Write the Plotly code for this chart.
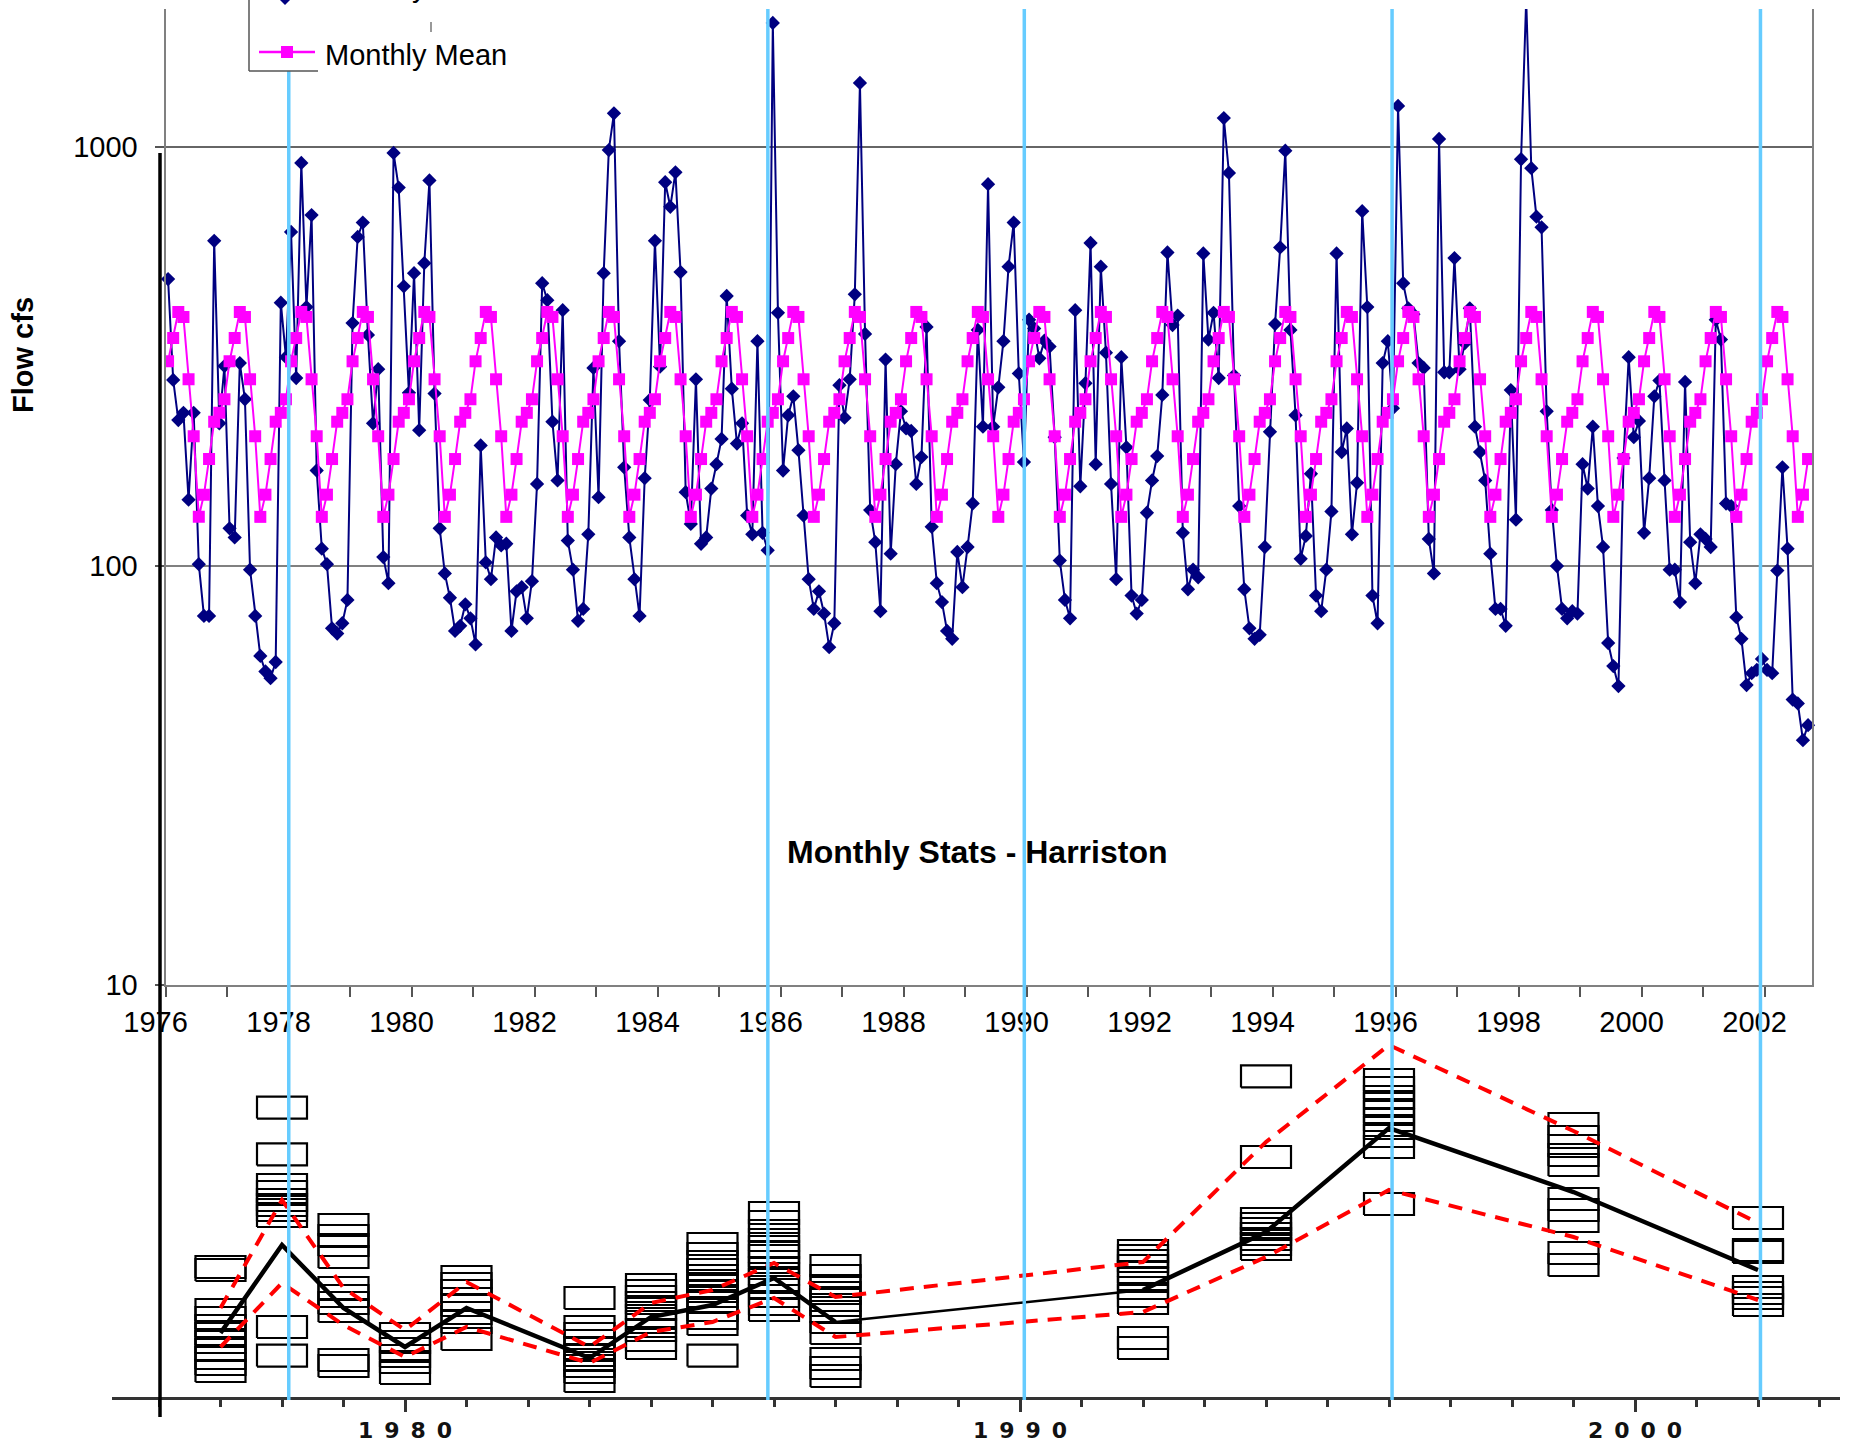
import plotly.graph_objects as go

W, H = 1851, 1447
FONT = "Liberation Sans, Arial, sans-serif"

# ---------------- Top chart: monthly flow (cfs), Jan 1976 - Sep 2002 ----------------
first_year = 1976
flow_1976 = [484, 278, 223, 232, 144, 232, 101, 76, 76, 597, 219, 300]
flow_1977 = [123, 117, 305, 250, 98, 76, 61, 56, 54, 59, 425, 315]
flow_1978 = [627, 281, 916, 415, 688, 169, 110, 101, 71, 69, 73, 83]
flow_1979 = [380, 610, 660, 356, 219, 295, 105, 91, 968, 800, 465, 259]
flow_1980 = [500, 211, 528, 832, 258, 123, 96, 84, 70, 72, 81, 75]
flow_1981 = [65, 194, 102, 93, 117, 112, 113, 70, 87, 89, 75, 92]
flow_1982 = [157, 473, 431, 221, 160, 408, 115, 98, 74, 79, 119, 297]
flow_1983 = [146, 500, 983, 1203, 344, 172, 117, 93, 76, 162, 249, 597]
flow_1984 = [299, 824, 720, 870, 503, 150, 126, 279, 113, 117, 153, 175]
flow_1985 = [201, 441, 265, 196, 219, 132, 119, 344, 120, 109, 1977, 402]
flow_1986 = [169, 229, 254, 189, 132, 93, 79, 87, 77, 64, 73, 270]
flow_1987 = [226, 279, 445, 1422, 358, 136, 114, 78, 311, 107, 175, 234]
flow_1988 = [213, 210, 157, 182, 372, 124, 91, 82, 70, 67, 108, 89]
flow_1989 = [111, 141, 366, 215, 815, 215, 267, 344, 518, 660, 288, 177]
flow_1990 = [387, 369, 313, 345, 334, 203, 103, 83, 75, 408, 155, 273]
flow_1991 = [590, 175, 518, 323, 157, 93, 315, 192, 85, 77, 83, 134]
flow_1992 = [160, 183, 256, 560, 376, 396, 120, 88, 98, 94, 557, 347]
flow_1993 = [402, 281, 1172, 867, 285, 139, 88, 71, 67, 68.5, 111, 209]
flow_1994 = [378, 576, 980, 366, 229, 104, 118, 166, 85, 78, 98, 135]
flow_1995 = [557, 187, 213, 119, 158, 703, 415, 85, 73, 305, 344, 238]
flow_1996 = [1253, 473, 412, 399, 305, 297, 116, 96, 1045, 290, 290, 543]
flow_1997 = [295, 340, 412, 215, 187, 160, 107, 79, 79, 72, 263, 129]
flow_1998 = [935, 2250, 890, 682, 643, 234, 136, 100, 79, 75, 78, 77]
flow_1999 = [175, 153, 215, 139, 111, 65.5, 57.7, 51.7, 181, 315, 203, 222]
flow_2000 = [120, 162, 254, 277, 160, 98, 98, 82, 275, 114, 91, 119]
flow_2001 = [116, 111, 387, 347, 141, 139, 75.5, 67, 52, 55.5, 56.5, 60]
flow_2002 = [56.5, 55.5, 97.5, 172, 110, 48, 47, 38.4, 41.7]

monthly_mean = [308, 350, 404, 393, 279, 204, 131, 148, 180, 221, 232, 250]

top_year_ticks = list(range(1976, 2003))
top_y_ticks = [10, 100, 1000]

# ---------------- Bottom chart: annual statistics ----------------
stat_years = [1977, 1978, 1979, 1980, 1981, 1983, 1984, 1985, 1986, 1987, 1992, 1994, 1996, 1999, 2002]
annual_mean = [16.75, 38.75, 23.0, 13.25, 23.0, 10.5, 20.75, 23.75, 30.5, 19.5, 27.5, 42.0, 68.0, 52.0, 32.5]
upper_limit = [23.0, 50.0, 28.0, 17.5, 29.5, 13.25, 24.25, 27.5, 34.25, 25.75, 34.5, 64.5, 88.75, 67.25, 44.25]
lower_limit = [13.25, 29.25, 18.75, 10.75, 18.25, 9.25, 17.0, 19.5, 25.5, 15.75, 22.0, 35.75, 52.5, 40.75, 25.0]
obs_1977 = [33.25, 32.5, 22.5, 20.5, 18.5, 16.5, 14.5, 12.5, 10.5, 9.0, 7.25]
obs_1978 = [73.1, 61.4, 53.75, 52.0, 50.0, 48.75, 47.5, 46.0, 18.25, 11.1]
obs_1979 = [43.75, 41.0, 38.75, 35.75, 28.0, 26.0, 24.25, 22.25, 10.0, 8.5]
obs_1980 = [16.5, 14.5, 12.75, 11.0, 9.5, 6.75]
obs_1981 = [30.75, 29.0, 27.25, 25.25, 23.75, 21.75, 19.5, 15.25]
obs_1983 = [25.5, 18.25, 16.5, 14.75, 13.0, 11.25, 10.0, 8.5, 7.0, 4.75]
obs_1984 = [28.75, 27.25, 25.75, 24.25, 22.75, 21.0, 19.5, 17.5, 15.0, 13.0]
obs_1985 = [39.0, 36.5, 34.5, 32.5, 31.0, 29.75, 28.5, 27.25, 26.0, 24.75, 22.5, 20.5, 19.0, 11.1]
obs_1986 = [46.75, 44.5, 42.25, 40.0, 38.25, 37.0, 36.0, 34.5, 33.0, 31.5, 30.0, 28.25, 26.0, 24.0, 22.5]
obs_1987 = [33.5, 31.0, 28.5, 26.75, 25.0, 23.75, 22.0, 19.5, 16.75, 10.25, 8.0, 6.0]
obs_1992 = [37.25, 36.0, 34.75, 33.5, 32.0, 30.25, 28.0, 26.0, 24.25, 15.5, 13.0]
obs_1994 = [80.9, 60.75, 45.25, 44.0, 42.75, 41.5, 40.25, 39.0, 37.75]
obs_1996 = [80.0, 78.0, 75.75, 74.0, 72.0, 70.0, 68.0, 66.0, 63.25, 49.0]
obs_1999 = [69.0, 65.75, 63.5, 61.25, 58.75, 50.25, 47.5, 44.75, 36.75, 33.75]
obs_2002 = [45.5, 37.5, 37.0, 28.25, 26.75, 25.5, 23.75]
bottom_major_ticks = [1980, 1990, 2000]
bottom_minor_ticks = list(range(1976, 2004))
marker_years = [1978.11, 1985.9, 1990.07, 1996.05, 2002.04]

# ---------------- build series ----------------
flow = (flow_1976 + flow_1977 + flow_1978 + flow_1979 + flow_1980 + flow_1981 + flow_1982 +
        flow_1983 + flow_1984 + flow_1985 + flow_1986 + flow_1987 + flow_1988 + flow_1989 +
        flow_1990 + flow_1991 + flow_1992 + flow_1993 + flow_1994 + flow_1995 + flow_1996 +
        flow_1997 + flow_1998 + flow_1999 + flow_2000 + flow_2001 + flow_2002)
months = [first_year + (i + 0.5) / 12 for i in range(len(flow))]
mean_series = [monthly_mean[i % 12] for i in range(len(flow))]
observed = [obs_1977, obs_1978, obs_1979, obs_1980, obs_1981, obs_1983, obs_1984, obs_1985,
            obs_1986, obs_1987, obs_1992, obs_1994, obs_1996, obs_1999, obs_2002]

fig = go.Figure()

fig.add_trace(go.Scatter(x=months, y=flow, mode="lines+markers", name="Monthly Flow",
                         line=dict(color="#000080", width=2),
                         marker=dict(symbol="diamond", size=11, color="#000080"),
                         cliponaxis=False, xaxis="x", yaxis="y", hoverinfo="skip"))
fig.add_trace(go.Scatter(x=months, y=mean_series, mode="lines+markers", name="Monthly Mean",
                         line=dict(color="#FF00FF", width=2),
                         marker=dict(symbol="square", size=12, color="#FF00FF"),
                         xaxis="x", yaxis="y", hoverinfo="skip"))

# boxes (open rectangle symbols) in the bottom panel
hw, hh = 0.4065, 2.75
bx, by = [], []
for yr, vals in zip(stat_years, observed):
    for v in vals:
        bx += [yr - hw, yr + hw, yr + hw, yr - hw, yr - hw, None]
        by += [v - hh, v - hh, v + hh, v + hh, v - hh, None]
fig.add_trace(go.Scatter(x=bx, y=by, mode="lines", line=dict(color="black", width=2.2),
                         xaxis="x2", yaxis="y2", hoverinfo="skip", showlegend=False))

for band in (upper_limit, lower_limit):
    fig.add_trace(go.Scatter(x=stat_years, y=band, mode="lines",
                             line=dict(color="#FF0000", width=4, dash="14px,10px"),
                             xaxis="x2", yaxis="y2", hoverinfo="skip", showlegend=False))

i87 = stat_years.index(1987)
i92 = stat_years.index(1992)
for a, b, w in ((0, i87 + 1, 4.5), (i87, i92 + 1, 2.5), (i92, len(stat_years), 4.5)):
    fig.add_trace(go.Scatter(x=stat_years[a:b], y=annual_mean[a:b], mode="lines",
                             line=dict(color="black", width=w),
                             xaxis="x2", yaxis="y2", hoverinfo="skip", showlegend=False))

# ---------------- layout ----------------
def px(x):
    return x / W

def py(y):
    return 1 - y / H

top_x0, top_x1, top_ytop, top_ybot = 165.5, 1812, 9, 985
year_px = 61.5
log_top = 1 + (top_ybot - top_ytop) / 419.0
SPACER = "\u2002"

fig.update_layout(
    width=W, height=H, margin=dict(l=0, r=0, t=0, b=0, pad=0, autoexpand=False),
    paper_bgcolor="white", plot_bgcolor="white", showlegend=False,
    font=dict(family=FONT, color="black"),
    xaxis=dict(domain=[px(top_x0), px(top_x1)], anchor="y", automargin=False,
               range=[first_year, first_year + (top_x1 - top_x0) / year_px],
               tickvals=top_year_ticks,
               ticktext=[str(y) if y % 2 == 0 else "" for y in top_year_ticks],
               ticks="outside", ticklen=10, tickwidth=1.5, tickcolor="#555",
               showline=True, linecolor="#808080", linewidth=2,
               showgrid=False, zeroline=False, ticklabelshift=-10,
               tickfont=dict(size=29, family=FONT, color="black")),
    yaxis=dict(domain=[py(top_ybot), py(top_ytop)], anchor="x", type="log", automargin=False,
               range=[1, log_top], tickvals=top_y_ticks,
               ticktext=[str(v) for v in top_y_ticks],
               ticks="outside", ticklen=9, tickwidth=1.5, tickcolor="#555",
               showline=True, mirror=True, linecolor="#808080", linewidth=2,
               showgrid=False, zeroline=False, ticklabelstandoff=11,
               tickfont=dict(size=29, family=FONT, color="black")),
    xaxis2=dict(domain=[px(112), px(1840)], anchor="y2", automargin=False,
                range=[1980 - (405 - 112) / year_px, 1980 + (1840 - 405) / year_px],
                tickvals=bottom_major_ticks,
                ticktext=[SPACER.join(str(v)) for v in bottom_major_ticks],
                ticks="outside", ticklen=12, tickwidth=2.5, tickcolor="#333",
                minor=dict(tickvals=bottom_minor_ticks, ticks="outside", ticklen=7,
                           tickwidth=2.5, tickcolor="#333"),
                showline=True, linecolor="#333", linewidth=3,
                showgrid=False, zeroline=False, ticklabelstandoff=0,
                tickfont=dict(size=22, family="DejaVu Sans", color="#111", weight="bold")),
    yaxis2=dict(domain=[py(1397), py(1030)], anchor="x2", range=[0.75, 92.5], automargin=False,
                visible=False, showgrid=False, zeroline=False),
)

shapes = []
# horizontal gridlines of the top chart
for v, col, w in zip(top_y_ticks[1:], ["#808080", "#333333"], [2, 1.3]):
    shapes.append(dict(type="line", xref="x domain", yref="y", x0=0, x1=1, y0=v, y1=v,
                       line=dict(color=col, width=w), layer="below"))
# thick black vertical axis of the bottom panel
shapes.append(dict(type="line", xref="paper", yref="paper", x0=px(160), x1=px(160),
                   y0=py(1417), y1=py(153), line=dict(color="black", width=3.5), layer="above"))
# light-blue marker lines
for yr in marker_years:
    shapes.append(dict(type="line", xref="x2", yref="paper", x0=yr, x1=yr,
                       y0=py(1400), y1=py(top_ytop), line=dict(color="#66CCFF", width=3.5),
                       layer="above"))
# legend box remnants
shapes.append(dict(type="rect", xref="paper", yref="paper", x0=px(249), x1=px(431),
                   y0=py(71), y1=1.01, fillcolor="white", line=dict(width=0), layer="above"))
shapes.append(dict(type="line", xref="paper", yref="paper", x0=px(249), x1=px(249),
                   y0=py(71), y1=1.0, line=dict(color="#555", width=1.5), layer="above"))
shapes.append(dict(type="line", xref="paper", yref="paper", x0=px(249), x1=px(318),
                   y0=py(71), y1=py(71), line=dict(color="#555", width=1.5), layer="above"))
shapes.append(dict(type="line", xref="paper", yref="paper", x0=px(431), x1=px(431),
                   y0=py(32), y1=py(22), line=dict(color="#777", width=1.5), layer="above"))
shapes.append(dict(type="line", xref="paper", yref="paper", x0=px(259), x1=px(315),
                   y0=py(52), y1=py(52), line=dict(color="#FF00FF", width=2.5), layer="above"))
shapes.append(dict(type="rect", xref="paper", yref="paper", x0=px(281), x1=px(293),
                   y0=py(58), y1=py(46), fillcolor="#FF00FF", line=dict(width=0), layer="above"))
shapes.append(dict(type="path", xref="paper", yref="paper",
                   path=f"M {px(285)},{py(-7)} L {px(291)},{py(-1)} L {px(285)},{py(5)} L {px(279)},{py(-1)} Z",
                   fillcolor="#000080", line=dict(width=0), layer="above"))
fig.update_layout(shapes=shapes)

annotations = [
    dict(text="Monthly Mean", x=px(323), y=py(55), xref="paper", yref="paper",
         xanchor="left", yanchor="middle", showarrow=False,
         font=dict(size=29, family=FONT, color="black")),
    dict(text="Monthly Flow", x=px(323), y=py(-13), xref="paper", yref="paper",
         xanchor="left", yanchor="middle", showarrow=False,
         font=dict(size=29, family=FONT, color="black")),
    dict(text="<b>Flow cfs</b>", x=px(23), y=py(355), xref="paper", yref="paper",
         xanchor="center", yanchor="middle", showarrow=False, textangle=-90,
         font=dict(size=29, family=FONT, color="black")),
    dict(text="<b>Monthly Stats - Harriston</b>", x=px(977), y=py(852), xref="paper", yref="paper",
         xanchor="center", yanchor="middle", showarrow=False,
         font=dict(size=32, family=FONT, color="black")),
]
fig.update_layout(annotations=annotations)

fig.write_html("out.html", config={"displayModeBar": False},
               post_script="document.body.style.margin='0';document.body.style.overflow='hidden';")
